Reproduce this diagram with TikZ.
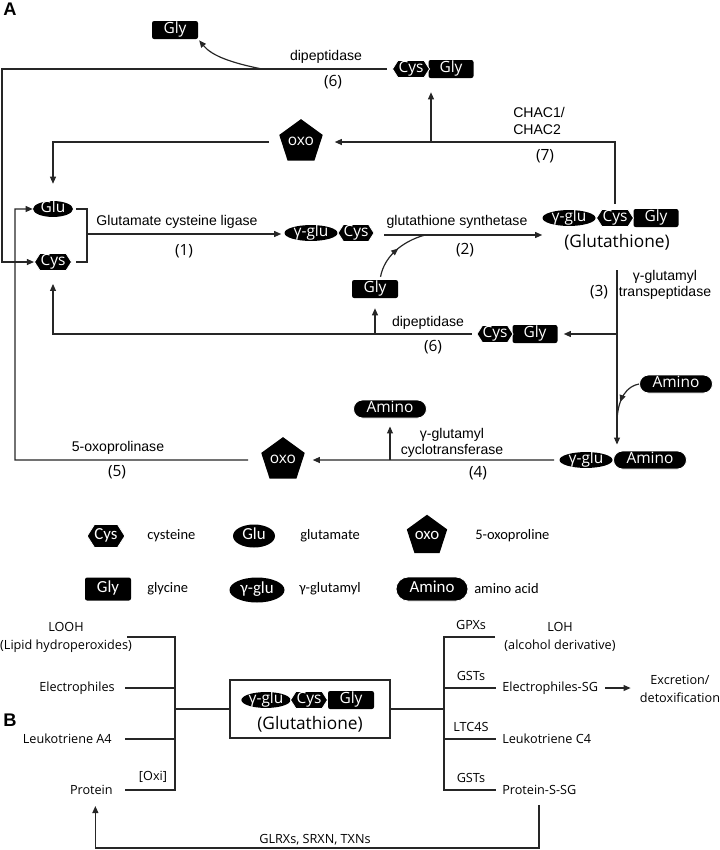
\documentclass[tikz,border=0pt]{standalone}
\usepackage{fontspec}
\setmainfont{Open Sans}
\newfontfamily\arialfont{Liberation Sans}
\newfontfamily\legfont{Carlito}
\usetikzlibrary{arrows.meta,shapes.geometric,shapes.symbols,shapes.misc,decorations.markings}
\newlength\pxu
\setlength\pxu{0.025cm}

\tikzset{
  mol/.style={fill=black, text=white, inner sep=0pt, text height=6.5pt, text depth=1.5pt,
    font=\fontsize{11}{13}\selectfont},
  cysm/.style={mol, signal, signal to=east and west, signal pointer angle=115,
    draw=white, line width=0.6pt, minimum width=37\pxu, minimum height=17\pxu},
  glym/.style={mol, rectangle, rounded corners=1.5pt, minimum width=46\pxu, minimum height=18\pxu},
  glum/.style={mol, ellipse, minimum width=40\pxu, minimum height=15\pxu},
  gglum/.style={mol, ellipse, minimum width=53\pxu, minimum height=15\pxu},
  aminom/.style={mol, rounded rectangle, draw=white, line width=0.6pt,
    minimum width=73\pxu, minimum height=18\pxu},
  oxom/.style={mol, regular polygon, regular polygon sides=5, minimum size=35\pxu},
  legmol/.style={font=\legfont\fontsize{12}{14}\selectfont},
  legtxt/.style={anchor=west, inner sep=0pt, font=\legfont\fontsize{10.3}{12}\selectfont},
  enz/.style={font=\arialfont\fontsize{10}{11.5}\selectfont, align=center, inner sep=0pt},
  stepnum/.style={font=\fontsize{11}{13}\selectfont, inner sep=0pt},
  btxt/.style={font=\fontsize{9}{12.8}\selectfont, inner sep=0pt, align=center},
  panel/.style={font=\arialfont\bfseries\fontsize{13}{13}\selectfont, inner sep=0pt},
  link/.style={draw=black!85, line width=0.85pt},
  tip/.style={link, -{Triangle[length=5pt,width=4.2pt]}},
  midtip/.style={link, postaction={decorate}, decoration={markings,
    mark=at position #1 with {\arrow{Triangle[length=5pt,width=4.2pt]}}}},
}

\begin{document}
\begin{tikzpicture}[x=0.025cm, y=-0.025cm]
\useasboundingbox (0,0) rectangle (720,850);

% ---------- panel A ----------
\node[panel] (labA) at (10,9) {A};

% molecules
\node[glym] (glyT) at (175,30) {Gly};
\node[glym, minimum width=45\pxu] (cgGlyT) at (451,69) {Gly};
\node[cysm] (cgCysT) at (411,69) {Cys};
\node[oxom] (oxoT) at (301,142) {oxo};
\node[glum] (glu) at (53,209) {Glu};
\node[cysm] (cys) at (53,262) {Cys};
\node[gglum] (gcGlu) at (311,233) {γ-glu};
\node[cysm, minimum width=36\pxu] (gcCys) at (356,233) {Cys};
\node[glym, minimum width=45\pxu] (gshGly) at (656,218) {Gly};
\node[gglum] (gshGlu) at (569,218) {γ-glu};
\node[cysm] (gshCys) at (615,218) {Cys};
\node[font=\fontsize{12.3}{14}\selectfont, inner sep=0pt] (gshName) at (617,242) {(Glutathione)};
\node[glym] (glyM) at (375,289) {Gly};
\node[glym, minimum width=45\pxu] (cgGlyM) at (535,334) {Gly};
\node[cysm, minimum width=36\pxu] (cgCysM) at (495,334) {Cys};
\node[aminom] (aminoR) at (676,384) {Amino};
\node[aminom] (aminoM) at (390,409) {Amino};
\node[gglum] (gaGlu) at (586,460) {γ-glu};
\node[aminom] (gaAmino) at (650,460) {Amino};
\node[oxom] (oxoB) at (283,460) {oxo};

% dipeptidase (top)
\coordinate (lt) at (2,69);
\draw[tip, shorten <=5\pxu] (cgCysT.west) -- (lt) |- (cys.west);
\coordinate (dpT) at (262,69);
\draw[tip, shorten >=1pt] (dpT) .. controls (232,63) and (212,56) .. (glyT.south east);
\node[enz] (dipT) at (326,57) {dipeptidase};
\node[stepnum] (n6T) at (333,82) {(6)};

% CHAC1/CHAC2
\draw[tip, shorten <=5\pxu, shorten >=14\pxu] (gshCys.north) |- (oxoT.east);
\coordinate (chacUp) at (431,142);
\draw[tip, shorten >=14\pxu] (chacUp) -- (chacUp |- cgGlyT.south);
\node[enz, anchor=west, align=left] (chacL) at (513,121) {CHAC1/\\CHAC2};
\node[stepnum] (n7) at (545,156) {(7)};
\draw[tip, shorten <=12\pxu, shorten >=17\pxu] (oxoT.west) -| (glu.north);

% glutamate cysteine ligase
\coordinate (br) at (87,234);
\draw[link, shorten <=3\pxu] (glu.east) -| (br);
\draw[link, shorten <=4\pxu] (cys.east) -| (br);
\draw[tip, shorten >=3\pxu] (br) -- (gcGlu.west |- br);
\node[enz] (gclL) at (177,222) {Glutamate cysteine ligase};
\node[stepnum] (n1) at (184,251) {(1)};

% glutathione synthetase
\coordinate (gs) at (384,235);
\coordinate (gsj) at (425,235);
\draw[tip] (gs) -- (gs -| gshGlu.west);
\draw[midtip=0.55, shorten <=3\pxu] ([xshift=5\pxu]glyM.north) .. controls (384,258) and (400,242) .. (gsj);
\node[enz] (gssL) at (457,222) {glutathione synthetase};
\node[stepnum] (n2) at (465,250) {(2)};

% dipeptidase (middle)
\draw[tip, shorten <=5\pxu, shorten >=13\pxu] (cgCysM.west) -| (cys.south);
\coordinate (dpM) at (375,334);
\draw[tip, shorten >=10\pxu] (dpM) -- (glyM.south);
\node[enz] (dipM) at (428,323) {dipeptidase};
\node[stepnum] (n6M) at (433,347) {(6)};

% gamma-glutamyl transpeptidase
\coordinate (tp) at (617,270);
\draw[tip, shorten >=6\pxu] (tp) -- (tp |- gaAmino.north);
\draw[tip, shorten >=6\pxu] (tp |- cgGlyM.east) -- (cgGlyM.east);
\coordinate (aj) at (617,420);
\draw[midtip=0.6] (aminoR.west) .. controls (627,386) and (618,398) .. (aj);
\node[stepnum] (n3) at (599,292) {(3)};
\node[enz] (ggtL) at (665,285) {γ-glutamyl\\transpeptidase};

% gamma-glutamyl cyclotransferase
\draw[tip, shorten <=5\pxu, shorten >=10\pxu] (gaGlu.west) -- (oxoB.east);
\coordinate (ct) at (390,460);
\draw[tip, shorten >=8\pxu] (ct) -- (aminoM.south);
\node[enz] (ggctL) at (452,443) {γ-glutamyl\\cyclotransferase};
\node[stepnum] (n4) at (478,473) {(4)};

% 5-oxoprolinase
\coordinate (lb) at (15,460);
\draw[tip, shorten <=15\pxu] (oxoB.west) -- (lb) |- (glu.west);
\node[enz] (opL) at (118,448) {5-oxoprolinase};
\node[stepnum] (n5) at (117,472) {(5)};

% legend
\node[cysm, legmol, minimum height=23\pxu] (legCys) at (106,536) {Cys};
\node[legtxt] (legCysT) at (147,536) {cysteine};
\node[glum, legmol, minimum width=42\pxu, minimum height=23\pxu] (legGlu) at (254,536) {Glu};
\node[legtxt] (legGluT) at (300,536) {glutamate};
\node[oxom, legmol, minimum size=40\pxu] (legOxo) at (427,536) {oxo};
\node[legtxt] (legOxoT) at (475,536) {5-oxoproline};
\node[glym, legmol, minimum height=23\pxu] (legGly) at (108,589) {Gly};
\node[legtxt] (legGlyT) at (147,589) {glycine};
\node[gglum, legmol, minimum width=55\pxu, minimum height=25\pxu] (legGglu) at (257,590) {γ-glu};
\node[legtxt] (legGgluT) at (299,589) {γ-glutamyl};
\node[aminom, legmol, minimum width=72\pxu, minimum height=24\pxu] (legAmino) at (432,589) {Amino};
\node[legtxt] (legAminoT) at (474,589) {amino acid};

% ---------- panel B ----------
\node[panel] (labB) at (10,720) {B};

\node[btxt] (looh) at (66,637) {LOOH\\(Lipid hydroperoxides)};
\node[btxt, anchor=east] (elec) at (115,688) {Electrophiles};
\node[btxt, anchor=east] (lta) at (112,739) {Leukotriene A4};
\node[btxt, anchor=east] (prot) at (113,790) {Protein};
\node[btxt] (oxi) at (153,777) {[Oxi]};

\node[draw=black!85, line width=0.85pt, minimum width=160\pxu, minimum height=58\pxu] (gshBox) at (310,709) {};
\node[glym] (bGly) at (351,700) {Gly};
\node[gglum, minimum width=47\pxu] (bGlu) at (266,700) {γ-glu};
\node[cysm] (bCys) at (309,700) {Cys};
\node[font=\fontsize{12.3}{14}\selectfont, inner sep=0pt] (bName) at (310,724) {(Glutathione)};

\coordinate (bl) at (175,709);
\draw[link] ([xshift=-5\pxu]looh.east) -- (looh.east -| bl) -- (bl |- prot.east) -- ([xshift=12\pxu]prot.east);
\draw[link] ([xshift=10\pxu]elec.east) -- (elec.east -| bl);
\draw[link] ([xshift=13\pxu]lta.east) -- (lta.east -| bl);
\draw[link] (bl) -- (gshBox.west);

\node[btxt] (loh) at (560,637) {LOH\\(alcohol derivative)};
\node[btxt, anchor=west] (elsg) at (502,688) {Electrophiles-SG};
\node[btxt, anchor=west] (ltc) at (502,739) {Leukotriene C4};
\node[btxt, anchor=west] (psg) at (502,790) {Protein-S-SG};
\node[btxt] (gpx) at (471,625) {GPXs};
\node[btxt] (gst1) at (471,676) {GSTs};
\node[btxt] (ltcs) at (471,727) {LTC4S};
\node[btxt] (gst2) at (471,778) {GSTs};
\node[btxt] (excr) at (680,689) {Excretion/\\detoxification};

\coordinate (br2) at (444,709);
\draw[link] (gshBox.east) -- (br2);
\draw[link] ([xshift=-9\pxu]loh.west) -- (loh.west -| br2) -- (br2 |- psg.west) -- ([xshift=-6\pxu]psg.west);
\draw[link] (br2 |- elsg.west) -- ([xshift=-6\pxu]elsg.west);
\draw[link] (br2 |- ltc.west) -- ([xshift=-6\pxu]ltc.west);
\draw[tip, shorten <=7\pxu, shorten >=9\pxu] (elsg.east) -- (elsg.east -| excr.west);

% recycling of oxidised protein
\coordinate (fb) at (539,848);
\draw[tip, shorten <=10\pxu, shorten >=11\pxu] (psg.south -| fb) -- (fb) -| ([xshift=4\pxu]prot.south);
\node[btxt] (glrx) at (315,840) {GLRXs, SRXN, TXNs};
\end{tikzpicture}
\end{document}
